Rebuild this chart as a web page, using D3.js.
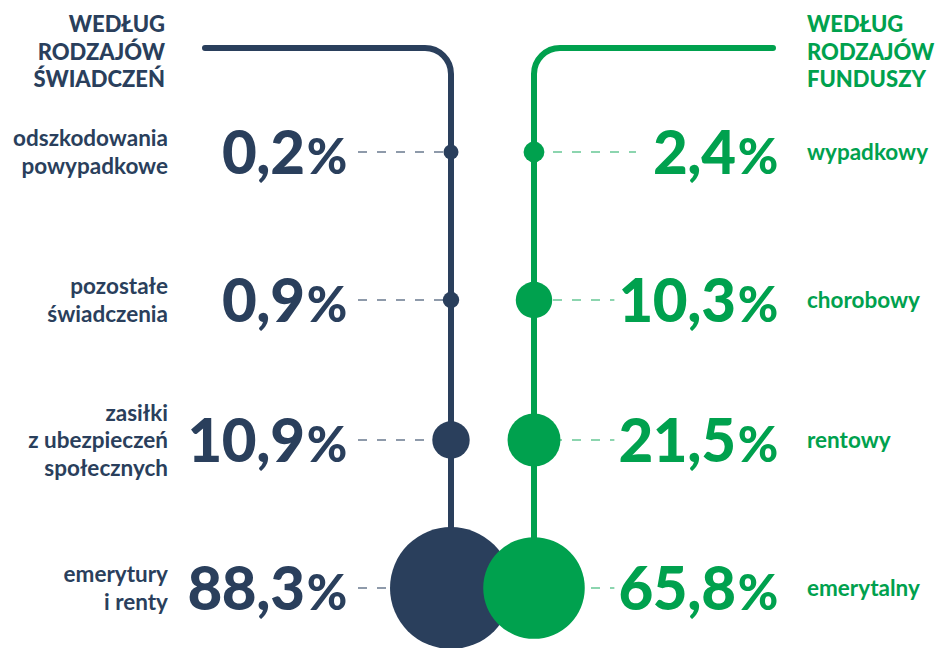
<!DOCTYPE html>
<html><head><meta charset="utf-8">
<script src="https://cdn.jsdelivr.net/npm/d3@7"></script>
<style>
html,body{margin:0;padding:0;background:#fff;}
svg{display:block;font-family:Lato,"Noto Sans",sans-serif;}
</style></head>
<body>
<svg id="chart" width="943" height="648"></svg>
<script>
// ---- data ----
const rows = ["r1","r2","r3","r4"];
const leftTitle = ["WEDŁUG","RODZAJÓW","ŚWIADCZEŃ"];
const rightTitle = ["WEDŁUG","RODZAJÓW","FUNDUSZY"];
const leftLabels = [["odszkodowania","powypadkowe"],["pozostałe","świadczenia"],["zasiłki","z ubezpieczeń","społecznych"],["emerytury","i renty"]];
const leftValues = [0.2, 0.9, 10.9, 88.3];
const rightLabels = [["wypadkowy"],["chorobowy"],["rentowy"],["emerytalny"]];
const rightValues = [2.4, 10.3, 21.5, 65.8];

const NAVY = "#2a3f5c", GREEN = "#00a14e";
const svg = d3.select("#chart");

// row positions (scale over row keys, with the gaps of the reference)
const y = d3.scaleOrdinal().domain(rows).range([152, 300, 440, 588]);
const r = d3.scalePow().exponent(0.7).domain([0, 88.3]).range([6, 61]);
const rad = v => Math.max(7.5, r(v));
const fmt = v => d3.format(".1f")(v).replace(".", ",");

const xL = 451, xR = 534, yTop = 48, cr = 26;
const yLast = y(rows[rows.length-1]);

// bent lines
svg.append("path")
  .attr("d", `M205,${yTop} H${xL-cr} A${cr},${cr} 0 0 1 ${xL},${yTop+cr} V${yLast}`)
  .attr("fill","none").attr("stroke",NAVY).attr("stroke-width",6).attr("stroke-linecap","round");
svg.append("path")
  .attr("d", `M773,${yTop} H${xR+cr} A${cr},${cr} 0 0 0 ${xR},${yTop+cr} V${yLast}`)
  .attr("fill","none").attr("stroke",GREEN).attr("stroke-width",6).attr("stroke-linecap","round");

// titles
function title(lines, x, anchor, color){
  const t = svg.append("text").attr("text-anchor",anchor).attr("fill",color)
    .attr("font-size",22).attr("font-weight",900);
  lines.forEach((s,i)=> t.append("tspan").attr("x",x).attr("y",32+i*27.5).text(s));
}
title(leftTitle, 165, "end", NAVY);
title(rightTitle, 807, "start", GREEN);

// numbers
function number(v, x, yc, anchor, color){
  const t = svg.append("text").attr("x",x).attr("y",yc+22).attr("text-anchor",anchor)
    .attr("fill",color).attr("font-size",60).attr("font-weight",900).attr("letter-spacing",-0.3);
  t.append("tspan").text(fmt(v));
  t.append("tspan").attr("font-size",49).attr("dx",2).text("%");
  return t;
}
// labels
function label(lines, x, yc, anchor, color){
  const t = svg.append("text").attr("text-anchor",anchor).attr("fill",color)
    .attr("font-size",22.5).attr("font-weight",700);
  const n = lines.length;
  lines.forEach((s,i)=> t.append("tspan").attr("x",x).attr("y",yc + (i-(n-1)/2)*27.5 + 8).text(s));
}

const dashG = svg.append("g");
rows.forEach((k,i)=>{
  const yc = y(k);
  // left
  number(leftValues[i], 347, yc, "end", NAVY);
  label(leftLabels[i], 168, yc, "end", NAVY);
  dashG.append("line").attr("x1",358).attr("x2",xL).attr("y1",yc).attr("y2",yc)
    .attr("stroke",NAVY).attr("stroke-opacity",0.7).attr("stroke-width",1.5).attr("stroke-dasharray","9 10");
  // right
  const tn = number(rightValues[i], 778, yc, "end", GREEN);
  const bb = tn.node().getBBox();
  label(rightLabels[i], 807, yc, "start", GREEN);
  const xEnd = Math.min(636, bb.x - 4);
  dashG.append("line").attr("x1",xR).attr("x2",xEnd).attr("y1",yc).attr("y2",yc)
    .attr("stroke",GREEN).attr("stroke-opacity",0.6).attr("stroke-width",1.5).attr("stroke-dasharray","9 10");
});

// circles
svg.append("g").selectAll("circle").data(leftValues).join("circle")
  .attr("cx",xL).attr("cy",(d,i)=>y(rows[i])).attr("r",d=>rad(d)).attr("fill",NAVY);
svg.append("g").selectAll("circle").data(rightValues).join("circle")
  .attr("cx",xR).attr("cy",(d,i)=>y(rows[i])).attr("r",d=>rad(d)).attr("fill",GREEN);
</script>
</body></html>
